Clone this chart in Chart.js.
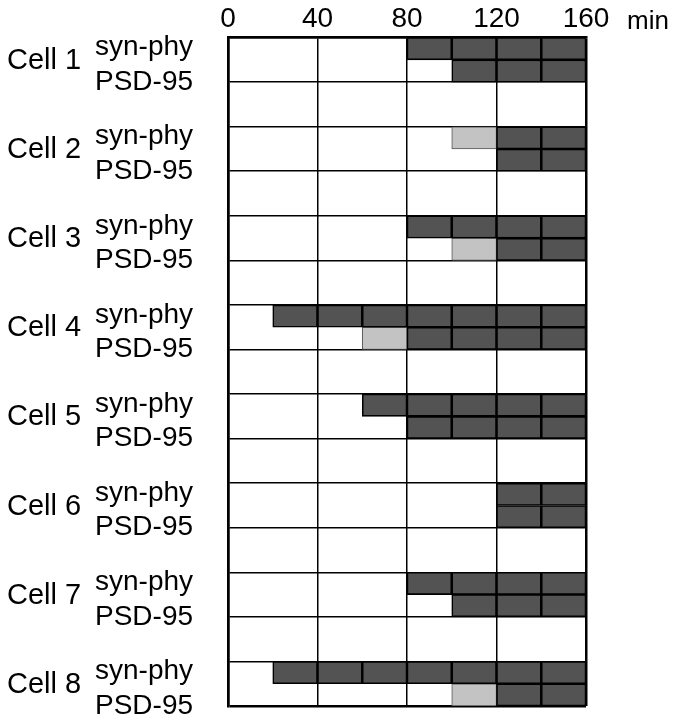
<!DOCTYPE html>
<html>
<head>
<meta charset="utf-8">
<script src="https://cdn.jsdelivr.net/npm/chart.js@4"></script>
<style>
  body { margin: 0; background: #fff; }
  #wrap { width: 676px; height: 720px; position: relative; }
</style>
</head>
<body>
<div id="wrap"><canvas id="timeline"></canvas></div>
<script>
const cellNames = ['Cell 1', 'Cell 2', 'Cell 3', 'Cell 4', 'Cell 5', 'Cell 6', 'Cell 7', 'Cell 8'];
const markerNames = ['syn-phy', 'PSD-95'];
const timeTicks = [0, 40, 80, 120, 160];
const timeUnit = 'min';
const frameMinutes = 20;

// start minute of every 20 min frame, one list per cell
const synPhyDark = [[80, 100, 120, 140], [120, 140], [80, 100, 120, 140], [20, 40, 60, 80, 100, 120, 140],
  [60, 80, 100, 120, 140], [120, 140], [80, 100, 120, 140], [20, 40, 60, 80, 100, 120, 140]];
const synPhyLight = [[], [100], [], [], [], [], [], []];
const psdDark = [[100, 120, 140], [120, 140], [120, 140], [80, 100, 120, 140],
  [80, 100, 120, 140], [120, 140], [100, 120, 140], [120, 140]];
const psdLight = [[], [], [100], [60], [], [], [], [100]];

// each cell takes 4 half rows: syn-phy, PSD-95, then an empty row
const rowsPerCell = 4;
const lastRow = rowsPerCell * (cellNames.length - 1) + 1;

function framePoints(synFrames, psdFrames) {
  const pts = [];
  for (let c = 0; c < cellNames.length; c++) {
    for (let t of synFrames[c]) pts.push({ x: [t, t + frameMinutes], y: c * rowsPerCell });
    for (let t of psdFrames[c]) pts.push({ x: [t, t + frameMinutes], y: c * rowsPerCell + 1 });
  }
  return pts;
}

const rowLines = [];
for (let v = -0.5; v <= lastRow + 0.5; v += 2) rowLines.push(v);

const nameTicks = [];
const cellTicks = [];
for (let c = 0; c < cellNames.length; c++) {
  nameTicks.push({ value: c * rowsPerCell - 0.05, label: markerNames[0] });
  nameTicks.push({ value: c * rowsPerCell + 1.5, label: markerNames[1] });
  cellTicks.push({ value: c * rowsPerCell + 0.55, label: cellNames[c] });
}

const font = '"Liberation Sans", Arial, sans-serif';

const minLabel = {
  id: 'minLabel',
  afterDraw(chart) {
    const ctx = chart.ctx;
    const xs = chart.scales.x;
    ctx.save();
    ctx.font = '26px ' + font;
    ctx.fillStyle = '#000';
    ctx.textAlign = 'left';
    ctx.textBaseline = 'alphabetic';
    ctx.fillText(timeUnit, xs.getPixelForValue(timeTicks[timeTicks.length - 1]) + 41, 29);
    ctx.restore();
  }
};

const sideAxis = (weight, ticksList, width, size) => ({
  type: 'linear',
  position: 'left',
  weight: weight,
  reverse: true,
  offset: false,
  min: -0.5,
  max: lastRow + 0.5,
  bounds: 'data',
  grid: { display: false, drawTicks: false, offset: false },
  border: { display: false },
  afterBuildTicks: (axis) => { axis.ticks = ticksList.map(t => ({ value: t.value })); },
  afterFit: (axis) => {
    axis.width = width;
    axis.paddingTop = 0;
    axis.paddingBottom = 0;
  },
  ticks: {
    autoSkip: false,
    crossAlign: 'far',
    color: '#000',
    font: { family: font, size: size },
    callback: (v, i) => ticksList[i].label
  }
});

new Chart(document.getElementById('timeline'), {
  type: 'bar',
  data: {
    datasets: [
      {
        label: 'dark',
        data: framePoints(synPhyDark, psdDark),
        backgroundColor: '#535353',
        borderColor: '#000',
        borderWidth: 1.6,
        borderSkipped: false,
        grouped: false,
        categoryPercentage: 1,
        barPercentage: 1
      },
      {
        label: 'light',
        data: framePoints(synPhyLight, psdLight),
        backgroundColor: '#c3c3c3',
        borderColor: '#555',
        borderWidth: 1,
        borderSkipped: false,
        grouped: false,
        categoryPercentage: 1,
        barPercentage: 1
      }
    ]
  },
  options: {
    indexAxis: 'y',
    animation: false,
    responsive: true,
    maintainAspectRatio: false,
    layout: { padding: { left: 7, right: 90, top: 0, bottom: 14 } },
    plugins: {
      legend: { display: false },
      tooltip: { enabled: false }
    },
    scales: {
      x: {
        type: 'linear',
        position: 'top',
        min: timeTicks[0],
        max: timeTicks[timeTicks.length - 1],
        afterBuildTicks: (axis) => { axis.ticks = timeTicks.map(v => ({ value: v })); },
        ticks: {
          color: '#000',
          padding: 2,
          font: { family: font, size: 28 }
        },
        grid: {
          color: '#000',
          drawTicks: false,
          lineWidth: (c) => (c.tick && (c.tick.value === 0 || c.tick.value === 160)) ? 2.5 : 1.5
        },
        border: { display: true, color: '#000', width: 2.5 }
      },
      y: {
        type: 'linear',
        position: 'left',
        weight: 0,
        reverse: true,
        offset: false,
        min: -0.5,
        max: lastRow + 0.5,
        bounds: 'data',
        afterBuildTicks: (axis) => { axis.ticks = rowLines.map(v => ({ value: v })); },
        ticks: { display: false },
        grid: {
          color: '#000',
          offset: false,
          drawTicks: false,
          lineWidth: (c) => (c.index === 0 || c.index === rowLines.length - 1) ? 2.5 : 1.6
        },
        border: { display: true, color: '#000', width: 2.5 }
      },
      yName: sideAxis(1, nameTicks, 133, 28),
      yCell: sideAxis(2, cellTicks, 88, 29)
    }
  },
  plugins: [minLabel]
});
</script>
</body>
</html>
